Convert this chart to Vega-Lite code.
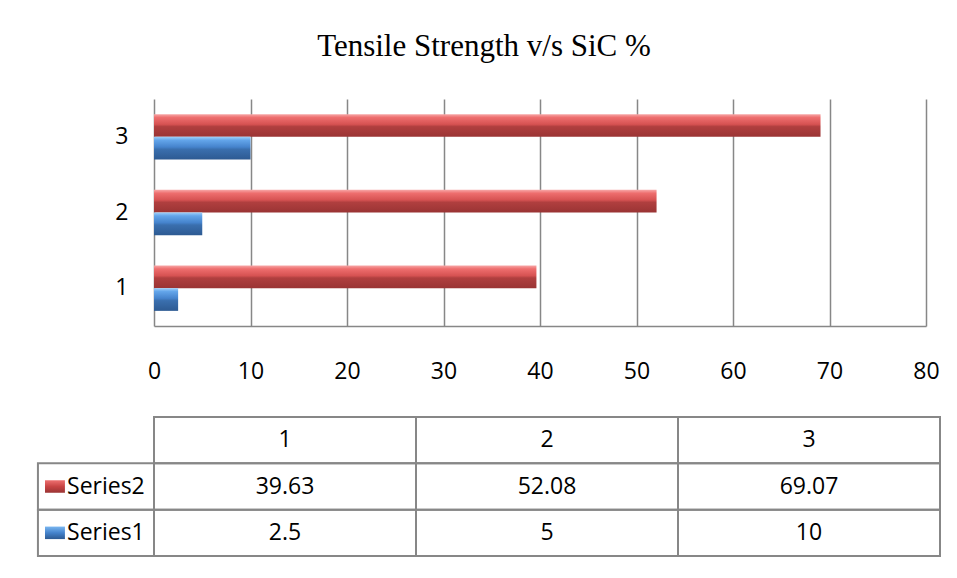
{
  "$schema": "https://vega.github.io/schema/vega-lite/v6.json",
  "padding": {"left": 36, "top": 31, "right": 5, "bottom": 5},
  "background": "white",
  "title": {"text": "Tensile Strength v/s SiC %", "font": "Liberation Serif", "fontSize": 31, "fontWeight": "normal", "color": "black", "anchor": "middle", "offset": 36, "dx": -5},
  "datasets": {
    "d": [
      {"cat": "1", "series": "Series2", "value": 39.63},
      {"cat": "1", "series": "Series1", "value": 2.5},
      {"cat": "2", "series": "Series2", "value": 52.08},
      {"cat": "2", "series": "Series1", "value": 5},
      {"cat": "3", "series": "Series2", "value": 69.07},
      {"cat": "3", "series": "Series1", "value": 10}
    ]
  },
  "columns": 1,
  "spacing": 33,
  "concat": [
    {
      "width": 772,
      "height": 227,
      "data": {"name": "d"},
      "encoding": {
        "y": {"field": "cat", "type": "nominal", "scale": {"domain": ["3", "2", "1"], "paddingInner": 0.4, "paddingOuter": 0.2},
          "axis": {"title": null, "ticks": false, "domain": false, "labelPadding": 26, "labelFontSize": 23, "labelColor": "black", "labelFont": "Open Sans", "minExtent": 117, "labelAngle": 0}},
        "yOffset": {"field": "series", "type": "nominal", "scale": {"domain": ["Series2", "Series1"], "paddingInner": 0, "paddingOuter": 0}},
        "x": {"field": "value", "type": "quantitative", "scale": {"domain": [0, 80], "nice": false},
          "axis": {"title": null, "values": [0, 10, 20, 30, 40, 50, 60, 70, 80], "grid": true, "gridColor": "#878787", "gridWidth": 1.5, "domainColor": "#878787", "domainWidth": 1.5, "ticks": false, "labelPadding": 34, "labelFontSize": 23, "labelColor": "black", "labelFont": "Open Sans", "labelFlush": false}}
      },
      "layer": [
        {
          "transform": [{"filter": "datum.series === 'Series2'"}],
          "mark": {"type": "bar", "color": {"gradient": "linear", "x1": 0, "y1": 0, "x2": 0, "y2": 1,
            "stops": [{"offset": 0, "color": "#f7a8a8"}, {"offset": 0.15, "color": "#ee6e6e"}, {"offset": 0.45, "color": "#d65252"}, {"offset": 0.55, "color": "#b03f3f"}, {"offset": 1, "color": "#9a3434"}]}}
        },
        {
          "transform": [{"filter": "datum.series === 'Series1'"}],
          "mark": {"type": "bar", "color": {"gradient": "linear", "x1": 0, "y1": 0, "x2": 0, "y2": 1,
            "stops": [{"offset": 0, "color": "#9fd0fa"}, {"offset": 0.15, "color": "#63a5ea"}, {"offset": 0.45, "color": "#4583cc"}, {"offset": 0.55, "color": "#3a6fae"}, {"offset": 1, "color": "#2d5a92"}]}}
        }
      ]
    },
    {
      "width": 786,
      "height": 139,
      "data": {"name": "d"},
      "transform": [
        {"calculate": "toNumber(datum.cat)", "as": "c1"},
        {"calculate": "datum.c1 - 1", "as": "c0"},
        {"calculate": "datum.c1 - 0.5", "as": "cm"}
      ],
      "layer": [
        {
          "mark": {"type": "rect", "fillOpacity": 0, "stroke": "#878787", "strokeWidth": 2},
          "encoding": {
            "x": {"field": "c0", "type": "quantitative", "scale": {"domain": [0, 3], "nice": false, "zero": false}, "axis": null},
            "x2": {"field": "c1"},
            "y": {"field": "series", "type": "nominal", "scale": {"domain": ["hdr", "Series2", "Series1"], "paddingInner": 0, "paddingOuter": 0}, "axis": null}
          }
        },
        {
          "transform": [{"filter": "datum.series === 'Series1'"}],
          "mark": {"type": "rect", "fillOpacity": 0, "stroke": "#878787", "strokeWidth": 2},
          "encoding": {
            "x": {"field": "c0", "type": "quantitative"},
            "x2": {"field": "c1"},
            "y": {"datum": "hdr", "type": "nominal"}
          }
        },
        {
          "transform": [{"filter": "datum.cat === '1'"}],
          "mark": {"type": "rect", "fillOpacity": 0, "stroke": "#878787", "strokeWidth": 2},
          "encoding": {
            "x": {"datum": -0.443, "type": "quantitative"},
            "x2": {"datum": 0},
            "y": {"field": "series", "type": "nominal"}
          }
        },
        {
          "transform": [{"filter": "datum.series === 'Series1'"}],
          "mark": {"type": "text", "fontSize": 23, "font": "Open Sans", "color": "black"},
          "encoding": {
            "x": {"field": "cm", "type": "quantitative"},
            "y": {"datum": "hdr", "type": "nominal"},
            "text": {"field": "cat", "type": "nominal"}
          }
        },
        {
          "mark": {"type": "text", "fontSize": 23, "font": "Open Sans", "color": "black"},
          "encoding": {
            "x": {"field": "cm", "type": "quantitative"},
            "y": {"field": "series", "type": "nominal"},
            "text": {"field": "value", "type": "nominal"}
          }
        },
        {
          "transform": [{"filter": "datum.cat === '1' && datum.series === 'Series2'"}],
          "mark": {"type": "bar", "height": {"band": 0.27}, "color": {"gradient": "linear", "x1": 0, "y1": 0, "x2": 0, "y2": 1,
            "stops": [{"offset": 0, "color": "#ee7070"}, {"offset": 0.5, "color": "#c84444"}, {"offset": 1, "color": "#9a3434"}]}},
          "encoding": {
            "x": {"datum": -0.416, "type": "quantitative"},
            "x2": {"datum": -0.34},
            "y": {"field": "series", "type": "nominal"}
          }
        },
        {
          "transform": [{"filter": "datum.cat === '1' && datum.series === 'Series1'"}],
          "mark": {"type": "bar", "height": {"band": 0.27}, "color": {"gradient": "linear", "x1": 0, "y1": 0, "x2": 0, "y2": 1,
            "stops": [{"offset": 0, "color": "#7ab6f0"}, {"offset": 0.5, "color": "#4583cc"}, {"offset": 1, "color": "#2d5a92"}]}},
          "encoding": {
            "x": {"datum": -0.416, "type": "quantitative"},
            "x2": {"datum": -0.34},
            "y": {"field": "series", "type": "nominal"}
          }
        },
        {
          "transform": [{"filter": "datum.cat === '1'"}],
          "mark": {"type": "text", "align": "left", "fontSize": 23, "font": "Open Sans", "color": "black"},
          "encoding": {
            "x": {"datum": -0.332, "type": "quantitative"},
            "y": {"field": "series", "type": "nominal"},
            "text": {"field": "series", "type": "nominal"}
          }
        }
      ]
    }
  ],
  "config": {"view": {"stroke": null}}
}
